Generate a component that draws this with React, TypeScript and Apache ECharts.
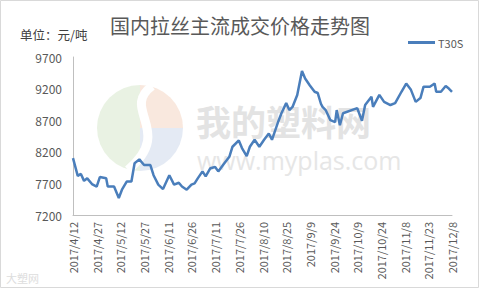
import React, { useEffect, useRef } from "react";
import * as echarts from "echarts";

const START = "2017-04-12";
const yTicks = [7200, 7700, 8200, 8700, 9200, 9700];
const dates = [
  "2017-04-12", "2017-04-15", "2017-04-17", "2017-04-19", "2017-04-21", "2017-04-24",
  "2017-04-27", "2017-04-29", "2017-05-03", "2017-05-04", "2017-05-08", "2017-05-11",
  "2017-05-13", "2017-05-16", "2017-05-19", "2017-05-21", "2017-05-24", "2017-05-27",
  "2017-05-31", "2017-06-02", "2017-06-05", "2017-06-08", "2017-06-12", "2017-06-15",
  "2017-06-18", "2017-06-20", "2017-06-23", "2017-06-26", "2017-06-28", "2017-06-30",
  "2017-07-03", "2017-07-05", "2017-07-08", "2017-07-11", "2017-07-13", "2017-07-16",
  "2017-07-20", "2017-07-22", "2017-07-26", "2017-07-28", "2017-07-31", "2017-08-02",
  "2017-08-05", "2017-08-08", "2017-08-11", "2017-08-14", "2017-08-16", "2017-08-20",
  "2017-08-22", "2017-08-25", "2017-08-27", "2017-08-29", "2017-09-01", "2017-09-04",
  "2017-09-06", "2017-09-09", "2017-09-12", "2017-09-14", "2017-09-16", "2017-09-17",
  "2017-09-19", "2017-09-22", "2017-09-25", "2017-09-26", "2017-09-28", "2017-09-30",
  "2017-10-09", "2017-10-12", "2017-10-14", "2017-10-18", "2017-10-19", "2017-10-23",
  "2017-10-26", "2017-10-30", "2017-11-02", "2017-11-06", "2017-11-09", "2017-11-12",
  "2017-11-15", "2017-11-18", "2017-11-20", "2017-11-24", "2017-11-27", "2017-11-28",
  "2017-12-01", "2017-12-04", "2017-12-06", "2017-12-08",
];
const t30s = [
  8100, 7820, 7850, 7740, 7780, 7690,
  7650, 7800, 7780, 7650, 7650, 7470,
  7600, 7730, 7730, 8020, 8080, 7990,
  7990, 7830, 7680, 7610, 7830, 7680,
  7710, 7650, 7600, 7680, 7700, 7780,
  7890, 7810, 7940, 7960, 7890, 7990,
  8120, 8280, 8380, 8260, 8130, 8280,
  8390, 8280, 8390, 8490, 8390, 8680,
  8810, 8970, 8860, 8910, 9100, 9480,
  9360, 9250, 9150, 9130, 8960, 8910,
  8860, 8700, 8670, 8860, 8620, 8810,
  8890, 8690, 8940, 9070, 8910, 9100,
  8990, 8940, 8970, 9150, 9280, 9180,
  8990, 9050, 9230, 9230, 9280, 9150,
  9150, 9240, 9200, 9150,
];

const DAY = 86400000;
const dayIndex = (d: string) => Math.round((Date.parse(d) - Date.parse(START)) / DAY);
const fmtDay = (i: number) => {
  const dt = new Date(Date.parse(START) + i * DAY);
  return `${dt.getUTCFullYear()}/${dt.getUTCMonth() + 1}/${dt.getUTCDate()}`;
};

export default function App() {
  const ref = useRef<HTMLDivElement>(null);
  useEffect(() => {
    if (!ref.current) return;
    const chart = echarts.init(ref.current, null, { renderer: "svg" });
    const font = "'Noto Sans CJK SC', 'Noto Sans', sans-serif";
    chart.setOption({
      animation: false,
      backgroundColor: "#ffffff",
      textStyle: { fontFamily: font },
      title: {
        text: "国内拉丝主流成交价格走势图",
        left: "center",
        top: 10,
        textStyle: { fontSize: 20, fontWeight: "normal", color: "#595959", fontFamily: font },
      },
      legend: {
        data: ["T30S"],
        left: 403,
        top: 32,
        icon: "rect",
        itemWidth: 27,
        itemHeight: 3,
        itemGap: 4,
        textStyle: { fontSize: 11, color: "#595959", padding: [0, 0, 0, -2] },
      },
      grid: { left: 73, right: 28, top: 57, bottom: 74, containLabel: false },
      xAxis: {
        type: "value",
        min: 0,
        max: 240,
        interval: 15,
        axisLine: { show: true, lineStyle: { color: "#bfbfbf", width: 1 } },
        axisTick: { show: false },
        splitLine: { show: false },
        axisLabel: {
          rotate: 90,
          fontSize: 11,
          color: "#595959",
          margin: 7,
          formatter: (v: number) => fmtDay(v),
          showMinLabel: true,
          showMaxLabel: true,
        },
      },
      yAxis: {
        type: "value",
        min: yTicks[0],
        max: yTicks[yTicks.length - 1],
        interval: 500,
        axisLine: { show: true, lineStyle: { color: "#bfbfbf", width: 1 } },
        axisTick: { show: false },
        splitLine: { show: false },
        axisLabel: { fontSize: 12, color: "#595959", margin: 11, formatter: (v: number) => String(v) },
      },
      graphic: [
        { type: "rect", shape: { x: 0.5, y: 0.5, width: 478, height: 287 }, style: { fill: "none", stroke: "#d9d9d9", lineWidth: 1 }, z: -10 },
        { type: "sector", shape: { cx: 140, cy: 128, r: 43, r0: 0, startAngle: Math.PI * 0.5, endAngle: Math.PI * 1.5 }, style: { fill: "#e3efdc", opacity: 0.8 }, z: -5 },
        { type: "sector", shape: { cx: 140, cy: 128, r: 43, r0: 0, startAngle: Math.PI * 1.5, endAngle: Math.PI * 2 }, style: { fill: "#f8e2d6", opacity: 0.8 }, z: -5 },
        { type: "sector", shape: { cx: 140, cy: 128, r: 43, r0: 0, startAngle: 0, endAngle: Math.PI * 0.5 }, style: { fill: "#dde5f1", opacity: 0.8 }, z: -5 },
        { type: "bezierCurve", shape: { x1: 152, y1: 86, cpx1: 120, cpy1: 110, cpx2: 175, cpy2: 130, x2: 128, y2: 170 }, style: { stroke: "#ffffff", lineWidth: 9, fill: "none" }, z: -4 },
        { type: "text", left: 196, top: 103, style: { text: "我的塑料网", fontSize: 35, fontWeight: "bold", fill: "#e3e3e3", fontFamily: font }, z: -3 },
        { type: "text", left: 197, top: 147, style: { text: "www.myplas.com", fontSize: 25, fill: "#e6e6e6", fontFamily: "'Open Sans', sans-serif" }, z: -3 },
        { type: "text", left: 6, top: 272, style: { text: "大塑网", fontSize: 11, fill: "#dddddd", fontFamily: font }, z: -3 },
        { type: "text", left: 20, top: 28, style: { text: "单位：元/吨", fontSize: 12.5, fill: "#404040", fontFamily: font } },
      ],
      series: [
        {
          name: "T30S",
          type: "line",
          data: dates.map((d, i) => [dayIndex(d), t30s[i]]),
          symbol: "none",
          lineStyle: { color: "#4a7ebb", width: 2.5 },
          itemStyle: { color: "#4a7ebb" },
        },
      ],
    });
    return () => chart.dispose();
  }, []);
  return <div ref={ref} style={{ width: 480, height: 289, position: "absolute", left: 0, top: 0 }} />;
}
